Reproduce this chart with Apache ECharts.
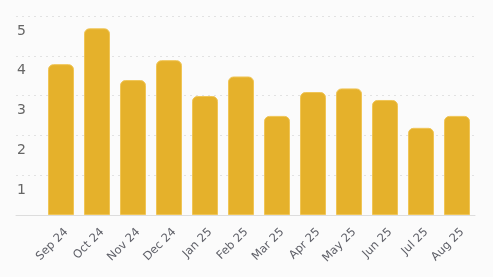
<!DOCTYPE html>
<html><head><meta charset="utf-8">
<script src="https://cdn.jsdelivr.net/npm/echarts@6/dist/echarts.min.js"></script>
<style>html,body{margin:0;padding:0;background:#fbfbfb;}#c{width:493px;height:277px;}</style>
</head><body><div id="c"></div>
<script>
var categories = ['Sep 24','Oct 24','Nov 24','Dec 24','Jan 25','Feb 25','Mar 25','Apr 25','May 25','Jun 25','Jul 25','Aug 25'];
var values = [3.79, 4.69, 3.39, 3.89, 2.99, 3.48, 2.49, 3.09, 3.18, 2.89, 2.19, 2.49];
var yTicks = [1, 2, 3, 4, 5];

var chart = echarts.init(document.getElementById('c'));
chart.setOption({
  backgroundColor: '#fbfbfb',
  animation: false,
  grid: [
    {left: 16, right: 18, top: 16, bottom: 62},
    {left: 43, right: 18, top: 16, bottom: 62}
  ],
  xAxis: [
    {type: 'category', gridIndex: 0, data: [''], axisLine: {lineStyle: {color: '#dddddd'}}, axisTick: {show: false}, axisLabel: {show: false}},
    {type: 'category', gridIndex: 1, data: categories, axisLine: {show: false}, axisTick: {show: false},
     axisLabel: {rotate: 45, color: '#5f6068', fontFamily: 'DejaVu Sans', fontSize: 11.5, margin: 10, interval: 0,
       verticalAlign: 'top', lineHeight: 15}}
  ],
  yAxis: [
    {type: 'value', gridIndex: 0, min: 0, max: 5, interval: 1, axisLine: {show: false}, axisTick: {show: false},
     splitLine: {lineStyle: {color: '#e2e2e2', type: [2, 4]}},
     axisLabel: {inside: true, margin: 1, color: '#666', fontFamily: 'DejaVu Sans', fontSize: 14, verticalAlign: 'top', lineHeight: 30,
       formatter: function (v) { return yTicks.indexOf(v) >= 0 ? String(v) : ''; }}},
    {type: 'value', gridIndex: 1, min: 0, max: 5, interval: 1, show: false}
  ],
  series: [{
    type: 'bar', xAxisIndex: 1, yAxisIndex: 1, data: values, barWidth: 26,
    itemStyle: {color: '#e5b12b', borderColor: '#f0c556', borderWidth: 1, borderRadius: [5, 5, 0, 0]}
  }]
});
</script></body></html>
